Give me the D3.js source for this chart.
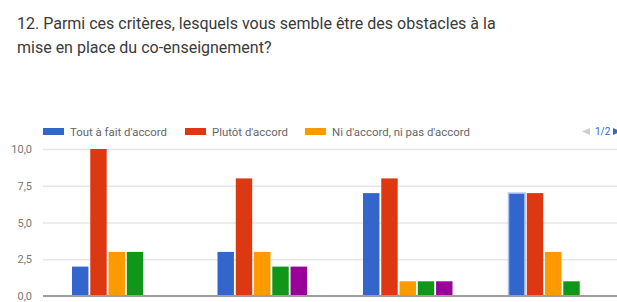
<!DOCTYPE html>
<html>
<head>
<meta charset="utf-8">
<script src="https://cdn.jsdelivr.net/npm/d3@7"></script>
<style>
  body { margin: 0; background: #fff; }
  svg { display: block; font-family: Roboto, Arial, sans-serif; }
</style>
</head>
<body>
<div class="canvas"></div>
<script>
const width = 617;
const height = 302;

// data
const titleLines = [
  "12. Parmi ces critères, lesquels vous semble être des obstacles à la",
  "mise en place du co-enseignement?"
];
const categories = ["q1", "q2", "q3", "q4"];
const seriesNames = [
  "Tout à fait d'accord",
  "Plutôt d'accord",
  "Ni d'accord, ni pas d'accord",
  "Plutôt pas d'accord",
  "Pas du tout d'accord"
];
const seriesColors = ["#3366cc", "#dc3912", "#ff9900", "#109618", "#990099"];
const values = [
  [2, 10, 3, 3, 0],
  [3, 8, 3, 2, 2],
  [7, 8, 1, 1, 1],
  [7, 7, 3, 1, 0]
];
const yTicks = [0, 2.5, 5, 7.5, 10];
const legendShown = 3; // page 1/2 of the legend

const svg = d3
  .select(".canvas")
  .append("svg")
  .attr("width", width)
  .attr("height", height);

// title
svg
  .append("g")
  .selectAll("text")
  .data(titleLines)
  .enter()
  .append("text")
  .attr("x", 17)
  .attr("y", (d, i) => 29 + i * 24)
  .attr("fill", "#3a3a3a")
  .style("font-size", "16px")
  .text((d) => d);

//scales
const x0 = d3.scaleBand().domain(categories).range([44, 626]);
const x1 = d3
  .scaleBand()
  .domain(d3.range(seriesNames.length))
  .range([28, x0.bandwidth() - 28])
  .paddingInner(0.1);
const y = d3.scaleLinear().domain([0, 10]).range([296, 149]);

// grid + y labels
const yAxis = d3
  .axisLeft(y)
  .tickValues(yTicks)
  .tickSize(-(width - 43))
  .tickFormat((d) => d3.format(".1f")(d).replace(".", ","));

const yAxisGroup = svg
  .append("g")
  .attr("transform", "translate(43,0)")
  .call(yAxis);
yAxisGroup.select(".domain").remove();
yAxisGroup.selectAll("line").attr("stroke", "#e6e6e6").attr("stroke-width", 1.5);
yAxisGroup
  .selectAll("text")
  .attr("x", -11)
  .attr("fill", "#777")
  .style("font-size", "11px")
  .style("font-family", "Roboto, Arial, sans-serif");

// bars
const groups = svg
  .append("g")
  .selectAll("g")
  .data(values)
  .enter()
  .append("g")
  .attr("transform", (d, i) => `translate(${x0(categories[i])},0)`);

groups
  .selectAll("rect")
  .data((d, gi) => d.map((v, si) => ({ v, si, gi })))
  .enter()
  .append("rect")
  .attr("x", (d) => x1(d.si))
  .attr("width", x1.bandwidth())
  .attr("y", (d) => y(d.v))
  .attr("height", (d) => y(0) - y(d.v))
  .attr("fill", (d) => seriesColors[d.si])
  // last group's first bar is shown highlighted in the picture
  .attr("stroke", (d) => (d.gi === 3 && d.si === 0 ? "#a9c1ee" : "none"))
  .attr("stroke-width", 1.5);

// baseline
svg
  .append("line")
  .attr("x1", 43)
  .attr("x2", width)
  .attr("y1", y(0))
  .attr("y2", y(0))
  .attr("stroke", "#9e9e9e")
  .attr("stroke-width", 2);

// legend
const legendX = [43, 185, 305];
const legend = svg
  .append("g")
  .selectAll("g")
  .data(seriesNames.slice(0, legendShown))
  .enter()
  .append("g")
  .attr("transform", (d, i) => `translate(${legendX[i]},128)`);

legend
  .append("rect")
  .attr("width", 21)
  .attr("height", 7)
  .attr("fill", (d, i) => seriesColors[i]);

legend
  .append("text")
  .attr("x", 27)
  .attr("y", 7.5)
  .attr("fill", "#666")
  .style("font-size", "11.4px")
  .text((d) => d);

// legend pager
const pager = svg.append("g").attr("transform", "translate(0,135)");
pager
  .append("path")
  .attr("d", "M590,-7 L582,-3.5 L590,0 Z")
  .attr("fill", "#ccc");
pager
  .append("text")
  .attr("x", 595)
  .attr("y", 0)
  .attr("fill", "#3366cc")
  .style("font-size", "10px")
  .text("1/2");
pager
  .append("path")
  .attr("d", "M613,-7 L621,-3.5 L613,0 Z")
  .attr("fill", "#3366cc");
</script>
</body>
</html>
